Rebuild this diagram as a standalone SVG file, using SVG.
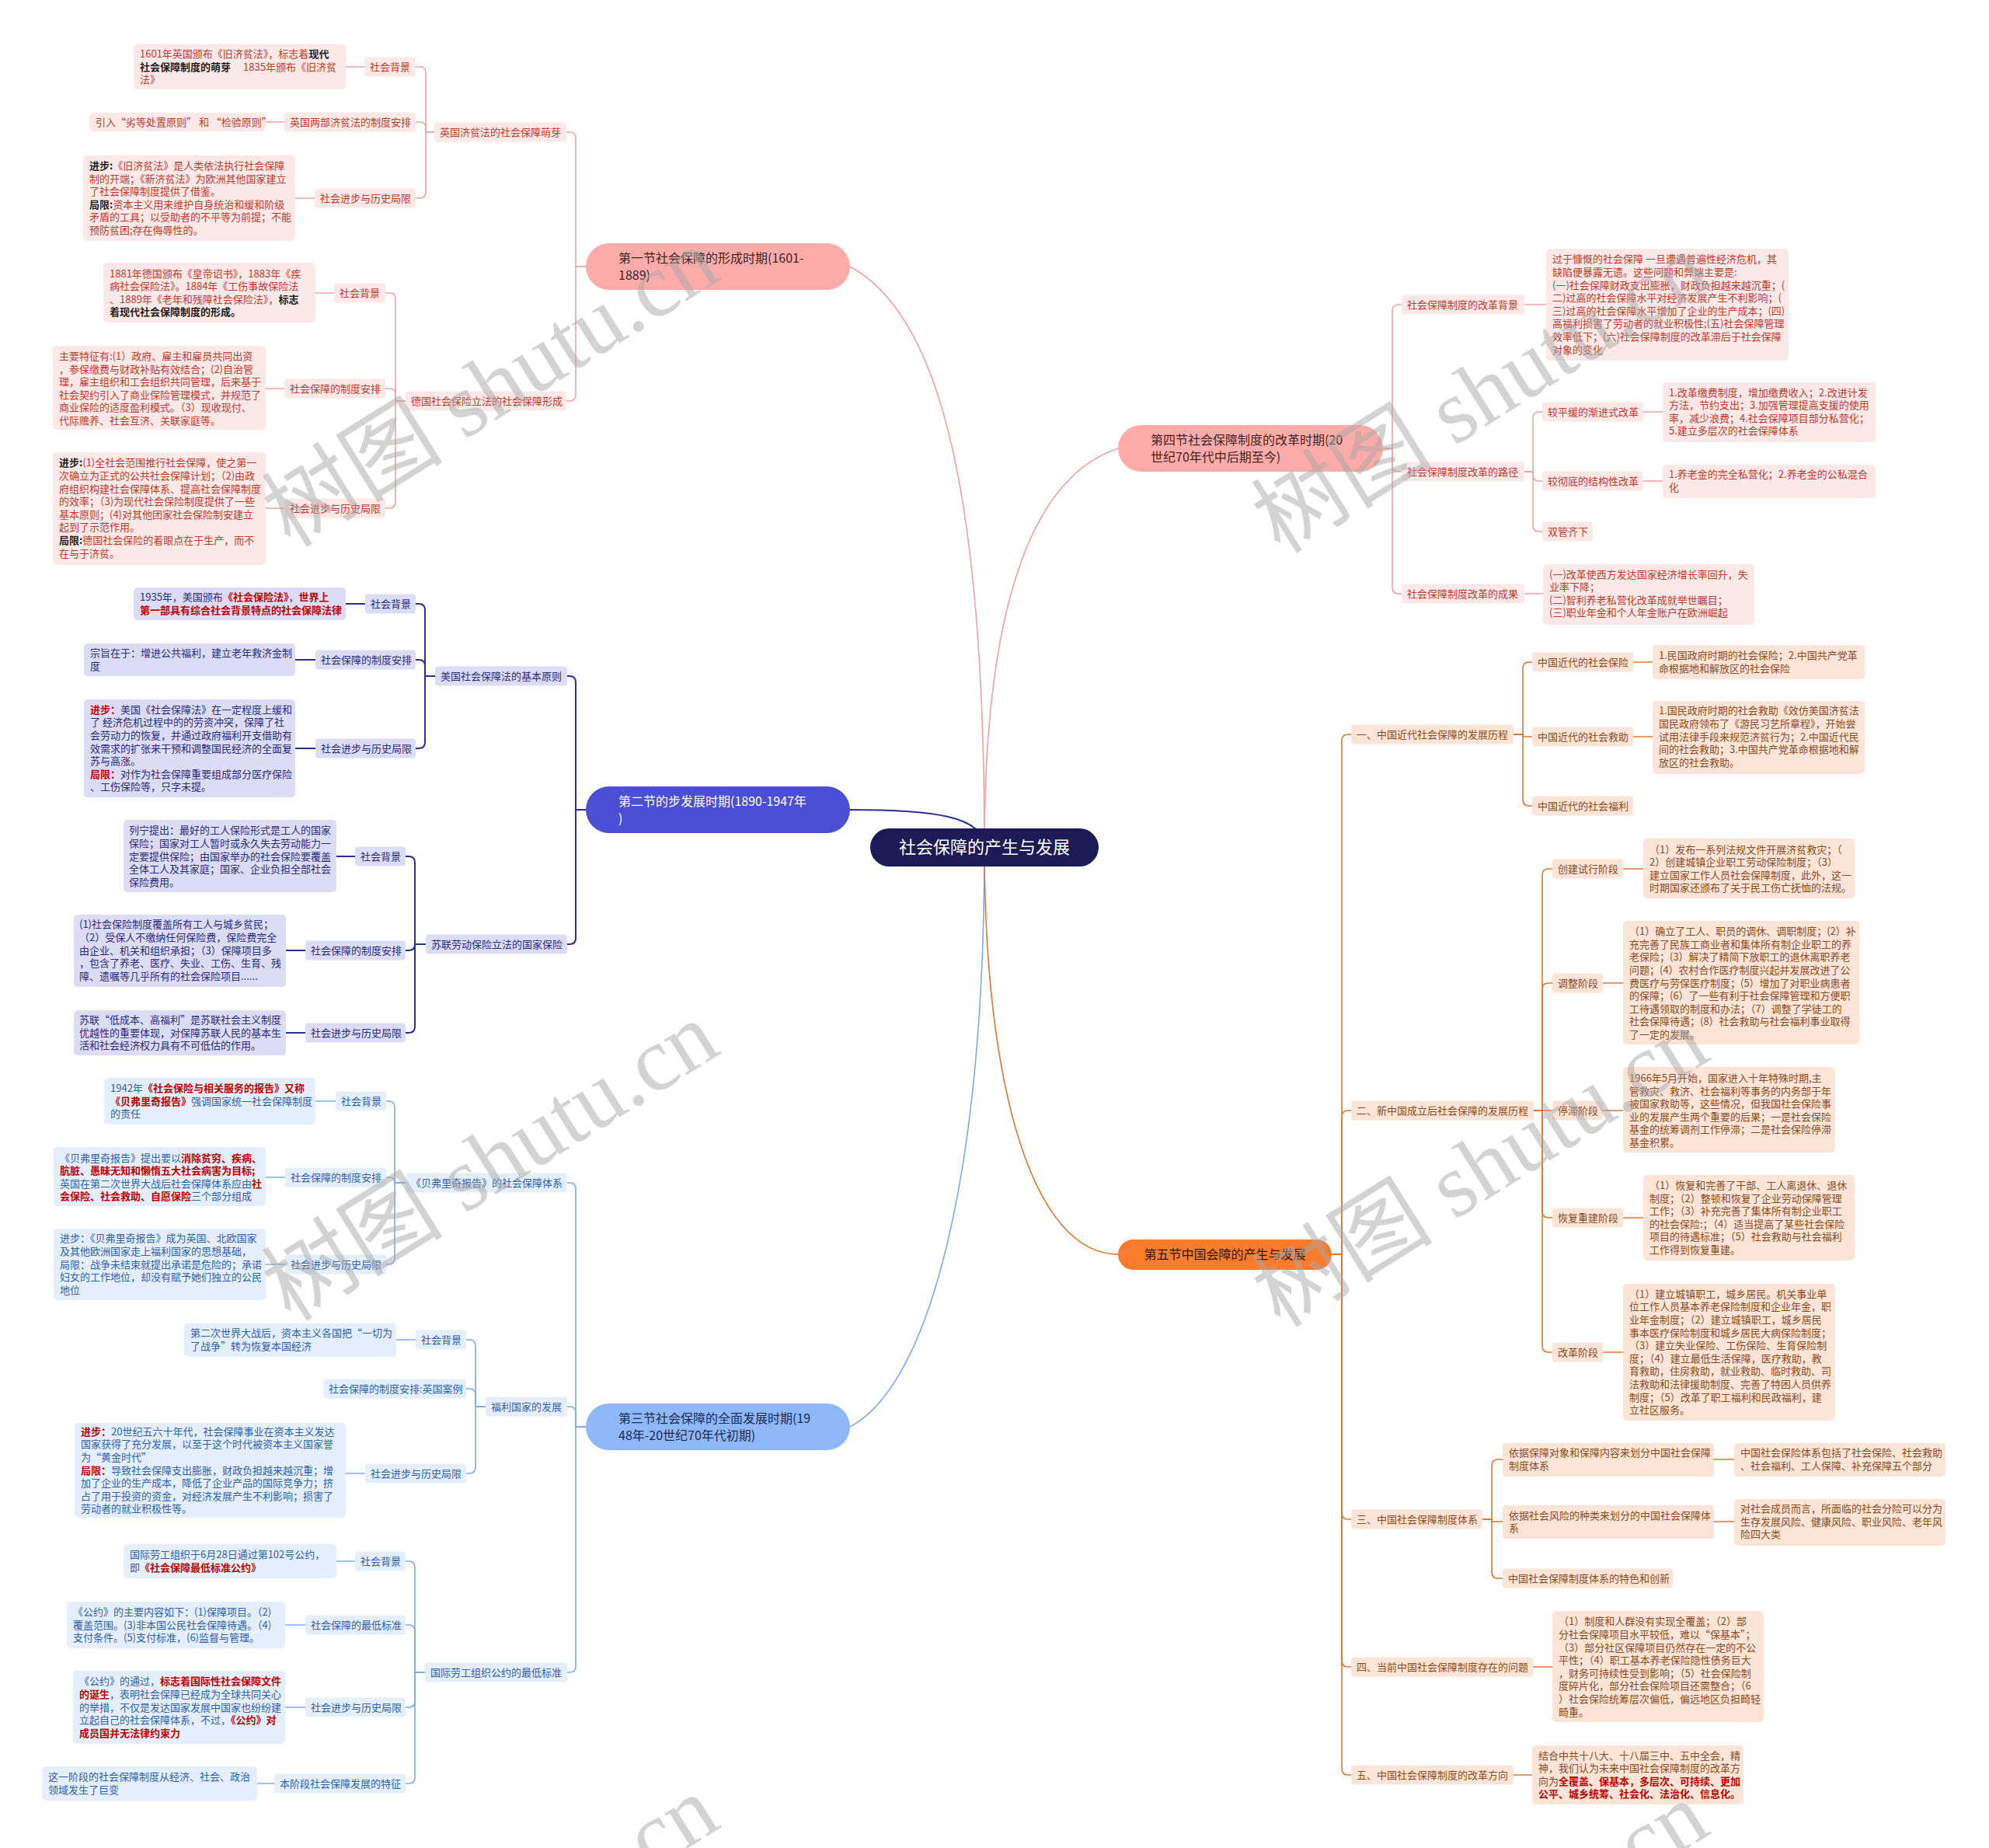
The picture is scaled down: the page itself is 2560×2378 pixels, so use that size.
<svg xmlns="http://www.w3.org/2000/svg" width="2560" height="2378" viewBox="0 0 2560 2378">
<style>
text{font-family:"Noto Sans CJK SC","Noto Sans",sans-serif;font-size:13px}
.pb{fill:#fde8e8}.pt{fill:#c0392b}
.nb{fill:#dcdcf6}.nt{fill:#2b2b82}
.bb{fill:#e5eefc}.bt{fill:#2c62b0}
.ob{fill:#fde4d6}.ot{fill:#8b4a22}
.k{font-weight:bold;fill:#1e1e1e}
.r{font-weight:bold;fill:#c00000}
.cp{fill:none;stroke:#f0a2a2;stroke-width:1.6}
.cn{fill:none;stroke:#2a2f96;stroke-width:2}
.cb{fill:none;stroke:#80aae6;stroke-width:1.6}
.co{fill:none;stroke:#e27632;stroke-width:1.6}
.l1{font-size:16px}
.wm{font-family:"Liberation Serif","Noto Sans CJK SC",serif;font-size:117px;fill:#a8a8a8;fill-opacity:.5}
</style>
<rect x="0" y="0" width="2560" height="2378" fill="#ffffff"/>
<g id="connectors">
<path class="cp" d="M1267,1090 C1267,600 1200,400 1094,343"/>
<path class="cn" d="M1267,1090 C1267,1050 1200,1042 1094,1042"/>
<path class="cb" d="M1267,1090 C1267,1500 1200,1780 1094,1836"/>
<path class="cp" d="M1267,1090 C1267,750 1340,610 1439,577"/>
<path class="co" d="M1267,1090 C1267,1400 1330,1614 1439,1614"/>
<path class="cp" d="M754,343 H741 V178 Q741,170 733,170 H729"/>
<path class="cp" d="M754,343 H741 V508 Q741,516 733,516 H729"/>
<path class="cp" d="M559,170 H548 V94 Q548,86 540,86 H535"/>
<path class="cp" d="M559,170 H548 V165 Q548,157 540,157 H535"/>
<path class="cp" d="M559,170 H548 V247 Q548,255 540,255 H535"/>
<path class="cp" d="M522,516 H509 V385 Q509,377 501,377 H496"/>
<path class="cp" d="M522,516 H509 V508 Q509,500 501,500 H496"/>
<path class="cp" d="M522,516 H509 V646 Q509,654 501,654 H496"/>
<path class="cp" d="M445,86 H469 M342,157 H366 M380,255 H405 M406,377 H430 M342,500 H366 M342,654 H366"/>
<path class="cn" d="M754,1042 H741 V878 Q741,870 733,870 H730"/>
<path class="cn" d="M754,1042 H741 V1207 Q741,1215 733,1215 H730"/>
<path class="cn" d="M560,870 H547 V785 Q547,777 539,777 H535"/>
<path class="cn" d="M560,870 H547 V857 Q547,849 539,849 H535"/>
<path class="cn" d="M560,870 H547 V955 Q547,963 539,963 H535"/>
<path class="cn" d="M548,1215 H534 V1110 Q534,1102 526,1102 H522"/>
<path class="cn" d="M548,1215 H534 Q534,1223 526,1223 H522"/>
<path class="cn" d="M548,1215 H534 V1321 Q534,1329 526,1329 H522"/>
<path class="cn" d="M445,777 H470 M380,849 H406 M380,963 H406 M433,1102 H457 M368,1223 H393 M368,1329 H393"/>
<path class="cb" d="M754,1836 H741 V1530 Q741,1522 733,1522 H730"/>
<path class="cb" d="M754,1836 H741 V1818 Q741,1810 733,1810 H730"/>
<path class="cb" d="M754,1836 H741 V2144 Q741,2152 733,2152 H730"/>
<path class="cb" d="M522,1522 H508 V1425 Q508,1417 500,1417 H497"/>
<path class="cb" d="M522,1522 H508 Q508,1515 501,1515 H497"/>
<path class="cb" d="M522,1522 H508 V1619 Q508,1627 500,1627 H497"/>
<path class="cb" d="M625,1810 H612 V1732 Q612,1724 604,1724 H600"/>
<path class="cb" d="M625,1810 H612 V1795 Q612,1787 604,1787 H600"/>
<path class="cb" d="M625,1810 H612 V1888 Q612,1896 604,1896 H600"/>
<path class="cb" d="M547,2152 H534 V2017 Q534,2009 526,2009 H522"/>
<path class="cb" d="M547,2152 H534 V2099 Q534,2091 526,2091 H522"/>
<path class="cb" d="M547,2152 H534 V2189 Q534,2197 526,2197 H522"/>
<path class="cb" d="M547,2152 H534 V2287 Q534,2295 526,2295 H522"/>
<path class="cb" d="M406,1417 H432 M342,1515 H367 M342,1627 H367 M510,1724 H535 M445,1896 H470 M433,2009 H457 M367,2091 H393 M367,2197 H393 M331,2295 H353"/>
<path class="cp" d="M1780,577 H1792 V400 Q1792,392 1800,392 H1804"/>
<path class="cp" d="M1780,577 H1792 V599 Q1792,607 1800,607 H1804"/>
<path class="cp" d="M1780,577 H1792 V756 Q1792,764 1800,764 H1804"/>
<path class="cp" d="M1962,607 H1973 V538 Q1973,530 1981,530 H1985"/>
<path class="cp" d="M1962,607 H1973 V611 Q1973,619 1981,619 H1985"/>
<path class="cp" d="M1962,607 H1973 V676 Q1973,684 1981,684 H1985"/>
<path class="cp" d="M1962,392 H1990 M1962,764 H1986 M2115,530 H2140 M2115,619 H2140"/>
<path class="co" d="M1714,1614 H1727 V953 Q1727,945 1735,945 H1739"/>
<path class="co" d="M1714,1614 H1727 V1437 Q1727,1429 1735,1429 H1739"/>
<path class="co" d="M1714,1614 H1727 V1947 Q1727,1955 1735,1955 H1739"/>
<path class="co" d="M1714,1614 H1727 V2137 Q1727,2145 1735,2145 H1739"/>
<path class="co" d="M1714,1614 H1727 V2276 Q1727,2284 1735,2284 H1739"/>
<path class="co" d="M1948,945 H1960 V860 Q1960,852 1968,852 H1972"/>
<path class="co" d="M1948,945 H1960 V948 H1972"/>
<path class="co" d="M1948,945 H1960 V1029 Q1960,1037 1968,1037 H1972"/>
<path class="co" d="M1974,1429 H1985 V1126 Q1985,1118 1993,1118 H1998"/>
<path class="co" d="M1974,1429 H1985 V1273 Q1985,1265 1993,1265 H1998"/>
<path class="co" d="M1974,1429 H1998"/>
<path class="co" d="M1974,1429 H1985 V1559 Q1985,1567 1993,1567 H1998"/>
<path class="co" d="M1974,1429 H1985 V1732 Q1985,1740 1993,1740 H1998"/>
<path class="co" d="M1908,1955 H1920 V1886 Q1920,1878 1928,1878 H1934"/>
<path class="co" d="M1908,1955 H1920 V1958 H1934"/>
<path class="co" d="M1908,1955 H1920 V2023 Q1920,2031 1928,2031 H1934"/>
<path class="co" d="M2102,852 H2127 M2102,948 H2127 M2089,1118 H2115 M2063,1265 H2089 M2063,1429 H2089 M2089,1567 H2115 M2063,1740 H2089 M2206,1878 H2232 M2206,1958 H2232 M1973,2145 H1998 M1947,2284 H1972"/>
</g>

<g id="center"><rect x="1120" y="1066" width="294" height="49" rx="24.5" fill="#1c1b57"/><text x="1267" y="1098" text-anchor="middle" fill="#ffffff" style="font-size:22px">社会保障的产生与发展</text></g>

<g id="n1"><rect x="754" y="313" width="340" height="60" rx="30" fill="#ffaba9"/><text class="l1" fill="#3a2626"><tspan x="796" y="337.5">第一节社会保障的形成时期(1601-</tspan><tspan x="796" y="359.5">1889)</tspan></text></g>
<g id="n2"><rect x="754" y="1012" width="340" height="60" rx="30" fill="#4a4fd6"/><text class="l1" fill="#ffffff"><tspan x="796" y="1036.5">第二节的步发展时期(1890-1947年</tspan><tspan x="796" y="1058.5">)</tspan></text></g>
<g id="n3"><rect x="754" y="1806" width="340" height="60" rx="30" fill="#8fb8f8"/><text class="l1" fill="#1e2b55"><tspan x="796" y="1830.5">第三节社会保障的全面发展时期(19</tspan><tspan x="796" y="1852.5">48年-20世纪70年代初期)</tspan></text></g>
<g id="n4"><rect x="1439" y="547" width="341" height="60" rx="30" fill="#ffaba9"/><text class="l1" fill="#3a2626"><tspan x="1481" y="571.5">第四节社会保障制度的改革时期(20</tspan><tspan x="1481" y="593.5">世纪70年代中后期至今)</tspan></text></g>
<g id="n5"><rect x="1439" y="1595" width="275" height="39" rx="19.5" fill="#f97b2c"/><text class="l1" x="1576.5" y="1620" text-anchor="middle" fill="#2e1a0c">第五节中国会障的产生与发展</text></g>

<g id="s1-a1"><rect class="pb" x="559" y="157.5" width="170" height="25" rx="4"/><text class="pt" x="566" y="174.5">英国济贫法的社会保障萌芽</text></g>
<g id="s1-a1-1"><rect class="pb" x="469" y="73.5" width="66" height="25" rx="4"/><text class="pt" x="476" y="90.5">社会背景</text></g>
<g id="s1-a1-1-leaf"><rect class="pb" x="172" y="57" width="273" height="58" rx="5"/><text class="pt"><tspan x="180" y="73.9">1601年英国颁布《旧济贫法》，标志着<tspan class="k">现代</tspan></tspan><tspan x="180" y="90.5"><tspan class="k">社会保障制度的萌芽</tspan><tspan dx="16">1835年颁布《旧济贫</tspan></tspan><tspan x="180" y="107.1">法》</tspan></text></g>
<g id="s1-a1-2"><rect class="pb" x="366" y="144.5" width="169" height="25" rx="4"/><text class="pt" x="373" y="161.5">英国两部济贫法的制度安排</text></g>
<g id="s1-a1-2-leaf"><rect class="pb" x="115" y="145" width="227" height="24" rx="5"/><text class="pt" x="123" y="161.5">引入“劣等处置原则” 和 “检验原则”</text></g>
<g id="s1-a1-3"><rect class="pb" x="405" y="242.5" width="130" height="25" rx="4"/><text class="pt" x="412" y="259.5">社会进步与历史局限</text></g>
<g id="s1-a1-3-leaf"><rect class="pb" x="107" y="200" width="273" height="110" rx="5"/><text class="pt"><tspan x="115" y="218"><tspan class="k">进步:</tspan>《旧济贫法》是人类依法执行社会保障</tspan><tspan x="115" y="234.6">制的开端；《新济贫法》为欧洲其他国家建立</tspan><tspan x="115" y="251.2">了社会保障制度提供了借鉴。</tspan><tspan x="115" y="267.8"><tspan class="k">局限:</tspan>资本主义用来维护自身统治和缓和阶级</tspan><tspan x="115" y="284.4">矛盾的工具；以受助者的不平等为前提；不能</tspan><tspan x="115" y="301">预防贫困;存在侮辱性的。</tspan></text></g>

<g id="s1-a2"><rect class="pb" x="522" y="503.5" width="207" height="25" rx="4"/><text class="pt" x="529" y="520.5">德国社会保险立法的社会保障形成</text></g>
<g id="s1-a2-1"><rect class="pb" x="430" y="364.5" width="66" height="25" rx="4"/><text class="pt" x="437" y="381.5">社会背景</text></g>
<g id="s1-a2-1-leaf"><rect class="pb" x="133" y="338" width="273" height="77" rx="5"/><text class="pt"><tspan x="141" y="356.6">1881年德国颁布《皇帝诏书》，1883年《疾</tspan><tspan x="141" y="373.2">病社会保险法》。1884年《工伤事故保险法</tspan><tspan x="141" y="389.8">、1889年《老年和残障社会保险法》，<tspan class="k">标志</tspan></tspan><tspan x="141" y="406.4" class="k">着现代社会保障制度的形成。</tspan></text></g>
<g id="s1-a2-2"><rect class="pb" x="366" y="487.5" width="130" height="25" rx="4"/><text class="pt" x="373" y="504.5">社会保障的制度安排</text></g>
<g id="s1-a2-2-leaf"><rect class="pb" x="68" y="445" width="274" height="108" rx="5"/><text class="pt"><tspan x="76" y="463">主要特征有:(1）政府、雇主和雇员共同出资</tspan><tspan x="76" y="479.6">，参保缴费与财政补贴有效结合；(2)自治管</tspan><tspan x="76" y="496.2">理，雇主组织和工会组织共同管理，后来基于</tspan><tspan x="76" y="512.8">社会契约引入了商业保险管理模式，并规范了</tspan><tspan x="76" y="529.4">商业保险的适度盈利模式。（3）现收现付、</tspan><tspan x="76" y="546">代际赡养、社会互济、关联家庭等。</tspan></text></g>
<g id="s1-a2-3"><rect class="pb" x="366" y="641.5" width="130" height="25" rx="4"/><text class="pt" x="373" y="658.5">社会进步与历史局限</text></g>
<g id="s1-a2-3-leaf"><rect class="pb" x="68" y="582" width="274" height="145" rx="5"/><text class="pt"><tspan x="76" y="600.4"><tspan class="k">进步:</tspan>(1)全社会范围推行社会保障，使之第一</tspan><tspan x="76" y="617">次确立为正式的公共社会保障计划；（2)由政</tspan><tspan x="76" y="633.6">府组织构建社会保障体系、提高社会保障制度</tspan><tspan x="76" y="650.2">的效率；（3)为现代社会保险制度提供了一些</tspan><tspan x="76" y="666.8">基本原则；(4)对其他团家社会保险制安建立</tspan><tspan x="76" y="683.4">起到了示范作用。</tspan><tspan x="76" y="700"><tspan class="k">局限:</tspan>德国社会保险的着眼点在于生产，而不</tspan><tspan x="76" y="716.6">在与于济贫。</tspan></text></g>

<g id="s2-b1"><rect class="nb" x="560" y="857.5" width="170" height="25" rx="4"/><text class="nt" x="567" y="874.5">美国社会保障法的基本原则</text></g>
<g id="s2-b1-1"><rect class="nb" x="470" y="764.5" width="65" height="25" rx="4"/><text class="nt" x="477" y="781.5">社会背景</text></g>
<g id="s2-b1-1-leaf"><rect class="nb" x="172" y="756" width="273" height="42" rx="5"/><text class="nt"><tspan x="180" y="773.2">1935年，美国颁布<tspan class="r">《社会保险法》</tspan>，<tspan class="r">世界上</tspan></tspan><tspan x="180" y="789.8" class="r">第一部具有综合社会背景特点的社会保障法律</tspan></text></g>
<g id="s2-b1-2"><rect class="nb" x="406" y="836.5" width="129" height="25" rx="4"/><text class="nt" x="413" y="853.5">社会保障的制度安排</text></g>
<g id="s2-b1-2-leaf"><rect class="nb" x="108" y="828" width="272" height="42" rx="5"/><text class="nt"><tspan x="116" y="845.2">宗旨在于：增进公共福利，建立老年救济金制</tspan><tspan x="116" y="861.8">度</tspan></text></g>
<g id="s2-b1-3"><rect class="nb" x="406" y="950.5" width="129" height="25" rx="4"/><text class="nt" x="413" y="967.5">社会进步与历史局限</text></g>
<g id="s2-b1-3-leaf"><rect class="nb" x="108" y="900" width="272" height="126" rx="5"/><text class="nt"><tspan x="116" y="917.7"><tspan class="r">进步：</tspan>美国《社会保障法》在一定程度上缓和</tspan><tspan x="116" y="934.3">了 经济危机过程中的的劳资冲突，保障了社</tspan><tspan x="116" y="950.9">会劳动力的恢复，并通过政府福利开支借助有</tspan><tspan x="116" y="967.5">效需求的扩张来干预和调整国民经济的全面复</tspan><tspan x="116" y="984.1">苏与高涨。</tspan><tspan x="116" y="1000.7"><tspan class="r">局限：</tspan>对作为社会保障重要组成部分医疗保险</tspan><tspan x="116" y="1017.3">、工伤保险等，只字未提。</tspan></text></g>

<g id="s2-b2"><rect class="nb" x="548" y="1202.5" width="182" height="25" rx="4"/><text class="nt" x="555" y="1219.5">苏联劳动保险立法的国家保险</text></g>
<g id="s2-b2-1"><rect class="nb" x="457" y="1089.5" width="65" height="25" rx="4"/><text class="nt" x="464" y="1106.5">社会背景</text></g>
<g id="s2-b2-1-leaf"><rect class="nb" x="159" y="1055" width="274" height="93" rx="5"/><text class="nt"><tspan x="166" y="1073.3">列宁提出：最好的工人保险形式是工人的国家</tspan><tspan x="166" y="1089.9">保险；国家对工人暂时或永久失去劳动能力一</tspan><tspan x="166" y="1106.5">定要提供保险；由国家举办的社会保险要覆盖</tspan><tspan x="166" y="1123.1">全体工人及其家庭；国家、企业负担全部社会</tspan><tspan x="166" y="1139.7">保险费用。</tspan></text></g>
<g id="s2-b2-2"><rect class="nb" x="393" y="1210.5" width="129" height="25" rx="4"/><text class="nt" x="400" y="1227.5">社会保障的制度安排</text></g>
<g id="s2-b2-2-leaf"><rect class="nb" x="95" y="1177" width="273" height="93" rx="5"/><text class="nt"><tspan x="102" y="1194.3">(1)社会保险制度覆盖所有工人与城乡贫民；</tspan><tspan x="102" y="1210.9">（2）受保人不缴纳任何保险费，保险费完全</tspan><tspan x="102" y="1227.5">由企业、机关和组织承担；（3）保障项目多</tspan><tspan x="102" y="1244.1">，包含了养老、医疗、失业、工伤、生育、残</tspan><tspan x="102" y="1260.7">障、遗嘱等几乎所有的社会保险项目......</tspan></text></g>
<g id="s2-b2-3"><rect class="nb" x="393" y="1316.5" width="129" height="25" rx="4"/><text class="nt" x="400" y="1333.5">社会进步与历史局限</text></g>
<g id="s2-b2-3-leaf"><rect class="nb" x="95" y="1300" width="273" height="58" rx="5"/><text class="nt"><tspan x="102" y="1316.9">苏联“低成本、高福利”是苏联社会主义制度</tspan><tspan x="102" y="1333.5">优越性的重要体现，对保障苏联人民的基本生</tspan><tspan x="102" y="1350.1">活和社会经济权力具有不可低估的作用。</tspan></text></g>

<g id="s3-c1"><rect class="bb" x="522" y="1509.5" width="208" height="25" rx="4"/><text class="bt" x="529" y="1526.5">《贝弗里奇报告》的社会保障体系</text></g>
<g id="s3-c1-1"><rect class="bb" x="432" y="1404.5" width="65" height="25" rx="4"/><text class="bt" x="439" y="1421.5">社会背景</text></g>
<g id="s3-c1-1-leaf"><rect class="bb" x="134" y="1387" width="272" height="60" rx="5"/><text class="bt"><tspan x="142" y="1404.9">1942年<tspan class="r">《社会保险与相关服务的报告》又称</tspan></tspan><tspan x="142" y="1421.5"><tspan class="r">《贝弗里奇报告》</tspan>强调国家统一社会保障制度</tspan><tspan x="142" y="1438.1">的责任</tspan></text></g>
<g id="s3-c1-2"><rect class="bb" x="367" y="1502.5" width="130" height="25" rx="4"/><text class="bt" x="374" y="1519.5">社会保障的制度安排</text></g>
<g id="s3-c1-2-leaf"><rect class="bb" x="69" y="1476" width="273" height="76" rx="5"/><text class="bt"><tspan x="77" y="1494.6">《贝弗里奇报告》提出要以<tspan class="r">消除贫穷、疾病、</tspan></tspan><tspan x="77" y="1511.2" class="r">肮脏、愚昧无知和懒惰五大社会病害为目标;</tspan><tspan x="77" y="1527.8">英国在第二次世界大战后社会保障体系应由<tspan class="r">社</tspan></tspan><tspan x="77" y="1544.4"><tspan class="r">会保险、社会救助、自愿保险</tspan>三个部分组成</tspan></text></g>
<g id="s3-c1-3"><rect class="bb" x="367" y="1614.5" width="130" height="25" rx="4"/><text class="bt" x="374" y="1631.5">社会进步与历史局限</text></g>
<g id="s3-c1-3-leaf"><rect class="bb" x="69" y="1581" width="273" height="92" rx="5"/><text class="bt"><tspan x="77" y="1598.3">进步：《贝弗里奇报告》成为英国、北欧国家</tspan><tspan x="77" y="1614.9">及其他欧洲国家走上福利国家的思想基础，</tspan><tspan x="77" y="1631.5">局限：战争未结束就提出承诺是危险的；承诺</tspan><tspan x="77" y="1648.1">妇女的工作地位，却没有赋予她们独立的公民</tspan><tspan x="77" y="1664.7">地位</tspan></text></g>

<g id="s3-c2"><rect class="bb" x="625" y="1797.5" width="105" height="25" rx="4"/><text class="bt" x="632" y="1814.5">福利国家的发展</text></g>
<g id="s3-c2-1"><rect class="bb" x="535" y="1711.5" width="65" height="25" rx="4"/><text class="bt" x="542" y="1728.5">社会背景</text></g>
<g id="s3-c2-1-leaf"><rect class="bb" x="237" y="1703" width="273" height="43" rx="5"/><text class="bt"><tspan x="245" y="1720.2">第二次世界大战后，资本主义各国把“一切为</tspan><tspan x="245" y="1736.8">了战争”转为恢复本国经济</tspan></text></g>
<g id="s3-c2-2"><rect class="bb" x="416" y="1774.5" width="184" height="25" rx="4"/><text class="bt" x="423" y="1791.5">社会保障的制度安排:英国案例</text></g>
<g id="s3-c2-3"><rect class="bb" x="470" y="1883.5" width="130" height="25" rx="4"/><text class="bt" x="477" y="1900.5">社会进步与历史局限</text></g>
<g id="s3-c2-3-leaf"><rect class="bb" x="96" y="1831" width="349" height="122" rx="5"/><text class="bt"><tspan x="104" y="1846.7"><tspan class="r">进步：</tspan>20世纪五六十年代，社会保障事业在资本主义发达</tspan><tspan x="104" y="1863.3">国家获得了充分发展，以至于这个时代被资本主义国家誉</tspan><tspan x="104" y="1879.9">为“黄金时代”</tspan><tspan x="104" y="1896.5"><tspan class="r">局限：</tspan>导致社会保障支出膨胀，财政负担越来越沉重；增</tspan><tspan x="104" y="1913.1">加了企业的生产成本，降低了企业产品的国际竞争力；挤</tspan><tspan x="104" y="1929.7">占了用于投资的资金，对经济发展产生不利影响；损害了</tspan><tspan x="104" y="1946.3">劳动者的就业积极性等。</tspan></text></g>

<g id="s3-c3"><rect class="bb" x="547" y="2139.5" width="183" height="25" rx="4"/><text class="bt" x="554" y="2156.5">国际劳工组织公约的最低标准</text></g>
<g id="s3-c3-1"><rect class="bb" x="457" y="1996.5" width="65" height="25" rx="4"/><text class="bt" x="464" y="2013.5">社会背景</text></g>
<g id="s3-c3-1-leaf"><rect class="bb" x="159" y="1987" width="274" height="44" rx="5"/><text class="bt"><tspan x="167" y="2005.2">国际劳工组织于6月28日通过第102号公约，</tspan><tspan x="167" y="2021.8">即<tspan class="r">《社会保障最低标准公约》</tspan></tspan></text></g>
<g id="s3-c3-2"><rect class="bb" x="393" y="2078.5" width="129" height="25" rx="4"/><text class="bt" x="400" y="2095.5">社会保障的最低标准</text></g>
<g id="s3-c3-2-leaf"><rect class="bb" x="86" y="2061" width="281" height="60" rx="5"/><text class="bt"><tspan x="94" y="2078.9">《公约》的主要内容如下：(1)保障项目。（2)</tspan><tspan x="94" y="2095.5">覆盖范围。(3)非本国公民社会保障待遇。（4)</tspan><tspan x="94" y="2112.1">支付条件。(5)支付标准，(6)监督与管理。</tspan></text></g>
<g id="s3-c3-3"><rect class="bb" x="393" y="2184.5" width="129" height="25" rx="4"/><text class="bt" x="400" y="2201.5">社会进步与历史局限</text></g>
<g id="s3-c3-3-leaf"><rect class="bb" x="94" y="2150" width="273" height="94" rx="5"/><text class="bt"><tspan x="102" y="2168.3">《公约》的通过，<tspan class="r">标志着国际性社会保障文件</tspan></tspan><tspan x="102" y="2184.9"><tspan class="r">的诞生</tspan>，表明社会保障已经成为全球共同关心</tspan><tspan x="102" y="2201.5">的举措，不仅是发达国家发展中国家也纷纷建</tspan><tspan x="102" y="2218.1">立起自己的社会保障体系，不过，<tspan class="r">《公约》对</tspan></tspan><tspan x="102" y="2234.7" class="r">成员国并无法律约束力</tspan></text></g>
<g id="s3-c3-4"><rect class="bb" x="353" y="2282.5" width="169" height="25" rx="4"/><text class="bt" x="360" y="2299.5">本阶段社会保障发展的特征</text></g>
<g id="s3-c3-4-leaf"><rect class="bb" x="54" y="2273" width="277" height="44" rx="5"/><text class="bt"><tspan x="62" y="2291.2">这一阶段的社会保障制度从经济、社会、政治</tspan><tspan x="62" y="2307.8">领域发生了巨变</tspan></text></g>

<g id="s4-d1"><rect class="pb" x="1804" y="379.5" width="158" height="25" rx="4"/><text class="pt" x="1811" y="396.5">社会保障制度的改革背景</text></g>
<g id="s4-d1-leaf"><rect class="pb" x="1990" y="320" width="312" height="144" rx="5"/><text class="pt"><tspan x="1998" y="338.4">过于慷慨的社会保障 一旦遭遇普遍性经济危机，其</tspan><tspan x="1998" y="355">缺陷便暴露无遗。这些问题和弊端主要是:</tspan><tspan x="1998" y="371.6">(一)社会保障财政支出膨胀，财政负担越来越沉重；(</tspan><tspan x="1998" y="388.2">二)过高的社会保障水平对经济发展产生不利影响；(</tspan><tspan x="1998" y="404.8">三)过高的社会保障水平增加了企业的生产成本；(四)</tspan><tspan x="1998" y="421.4">高福利损害了劳动者的就业积极性;(五)社会保障管理</tspan><tspan x="1998" y="438">效率低下；(六)社会保障制度的改革滞后于社会保障</tspan><tspan x="1998" y="454.6">对象的变化</tspan></text></g>
<g id="s4-d2"><rect class="pb" x="1804" y="594.5" width="158" height="25" rx="4"/><text class="pt" x="1811" y="611.5">社会保障制度改革的路径</text></g>
<g id="s4-d2-1"><rect class="pb" x="1985" y="517.5" width="130" height="25" rx="4"/><text class="pt" x="1992" y="534.5">较平缓的渐进式改革</text></g>
<g id="s4-d2-1-leaf"><rect class="pb" x="2140" y="492" width="274" height="77" rx="5"/><text class="pt"><tspan x="2148" y="509.6">1.改革缴费制度，增加缴费收入；2.改进计发</tspan><tspan x="2148" y="526.2">方法，节约支出；3.加强管理提高支援的使用</tspan><tspan x="2148" y="542.8">率，减少浪费；4.社会保障项目部分私营化；</tspan><tspan x="2148" y="559.4">5.建立多层次的社会保障体系</tspan></text></g>
<g id="s4-d2-2"><rect class="pb" x="1985" y="606.5" width="130" height="25" rx="4"/><text class="pt" x="1992" y="623.5">较彻底的结构性改革</text></g>
<g id="s4-d2-2-leaf"><rect class="pb" x="2140" y="598" width="274" height="43" rx="5"/><text class="pt"><tspan x="2148" y="615.2">1.养老金的完全私营化；2.养老金的公私混合</tspan><tspan x="2148" y="631.8">化</tspan></text></g>
<g id="s4-d2-3"><rect class="pb" x="1985" y="671.5" width="65" height="25" rx="4"/><text class="pt" x="1992" y="688.5">双管齐下</text></g>
<g id="s4-d3"><rect class="pb" x="1804" y="751.5" width="158" height="25" rx="4"/><text class="pt" x="1811" y="768.5">社会保障制度改革的成果</text></g>
<g id="s4-d3-leaf"><rect class="pb" x="1986" y="726" width="272" height="78" rx="5"/><text class="pt"><tspan x="1994" y="743.6">(一)改革使西方发达国家经济增长率回升，失</tspan><tspan x="1994" y="760.2">业率下降；</tspan><tspan x="1994" y="776.8">(二)智利养老私营化改革成就举世瞩目；</tspan><tspan x="1994" y="793.4">(三)职业年金和个人年金账户在欧洲崛起</tspan></text></g>

<g id="s5-e1"><rect class="ob" x="1739" y="932.5" width="209" height="25" rx="4"/><text class="ot" x="1746" y="949.5">一、中国近代社会保障的发展历程</text></g>
<g id="s5-e1-1"><rect class="ob" x="1972" y="839.5" width="130" height="25" rx="4"/><text class="ot" x="1979" y="856.5">中国近代的社会保险</text></g>
<g id="s5-e1-1-leaf"><rect class="ob" x="2127" y="830" width="273" height="44" rx="5"/><text class="ot"><tspan x="2135" y="848.2">1.民国政府时期的社会保险；2.中国共产党革</tspan><tspan x="2135" y="864.8">命根据地和解放区的社会保险</tspan></text></g>
<g id="s5-e1-2"><rect class="ob" x="1972" y="935.5" width="130" height="25" rx="4"/><text class="ot" x="1979" y="952.5">中国近代的社会救助</text></g>
<g id="s5-e1-2-leaf"><rect class="ob" x="2127" y="902" width="273" height="94" rx="5"/><text class="ot"><tspan x="2135" y="919.3">1.国民政府时期的社会救助《效仿美国济贫法</tspan><tspan x="2135" y="935.9">国民政府领布了《游民习艺所章程》，开始尝</tspan><tspan x="2135" y="952.5">试用法律手段来规范济贫行为；2.中国近代民</tspan><tspan x="2135" y="969.1">间的社会救助；3.中国共产党革命根据地和解</tspan><tspan x="2135" y="985.7">放区的社会救助。</tspan></text></g>
<g id="s5-e1-3"><rect class="ob" x="1972" y="1024.5" width="130" height="25" rx="4"/><text class="ot" x="1979" y="1041.5">中国近代的社会福利</text></g>

<g id="s5-e2"><rect class="ob" x="1739" y="1416.5" width="235" height="25" rx="4"/><text class="ot" x="1746" y="1433.5">二、新中国成立后社会保障的发展历程</text></g>
<g id="s5-e2-1"><rect class="ob" x="1998" y="1105.5" width="91" height="25" rx="4"/><text class="ot" x="2005" y="1122.5">创建试行阶段</text></g>
<g id="s5-e2-1-leaf"><rect class="ob" x="2115" y="1079" width="272" height="77" rx="5"/><text class="ot"><tspan x="2123" y="1097.6">（1）发布一系列法规文件开展济贫救灾；（</tspan><tspan x="2123" y="1114.2">2）创建城镇企业职工劳动保险制度；（3）</tspan><tspan x="2123" y="1130.8">建立国家工作人员社会保障制度，此外，这一</tspan><tspan x="2123" y="1147.4">时期国家还颁布了关于民工伤亡抚恤的法规。</tspan></text></g>
<g id="s5-e2-2"><rect class="ob" x="1998" y="1252.5" width="65" height="25" rx="4"/><text class="ot" x="2005" y="1269.5">调整阶段</text></g>
<g id="s5-e2-2-leaf"><rect class="ob" x="2089" y="1185" width="304" height="159" rx="5"/><text class="ot"><tspan x="2097" y="1203.1">（1）确立了工人、职员的调休、调职制度；(2）补</tspan><tspan x="2097" y="1219.7">充完善了民族工商业者和集体所有制企业职工的养</tspan><tspan x="2097" y="1236.3">老保险；(3）解决了精简下放职工的退休离职养老</tspan><tspan x="2097" y="1252.9">问题；(4）农村合作医疗制度兴起并发展改进了公</tspan><tspan x="2097" y="1269.5">费医疗与劳保医疗制度；(5）增加了对职业病患者</tspan><tspan x="2097" y="1286.1">的保障；(6）了一些有利于社会保障管理和方便职</tspan><tspan x="2097" y="1302.7">工待遇领取的制度和办法；（7）调整了学徒工的</tspan><tspan x="2097" y="1319.3">社会保障待遇；(8）社会救助与社会福利事业取得</tspan><tspan x="2097" y="1335.9">了一定的发展。</tspan></text></g>
<g id="s5-e2-3"><rect class="ob" x="1998" y="1416.5" width="65" height="25" rx="4"/><text class="ot" x="2005" y="1433.5">停滞阶段</text></g>
<g id="s5-e2-3-leaf"><rect class="ob" x="2089" y="1373" width="273" height="110" rx="5"/><text class="ot"><tspan x="2097" y="1392">1966年5月开始，国家进入十年特殊时期,主</tspan><tspan x="2097" y="1408.6">管救灾、救济、社会福利等事务的内务部于年</tspan><tspan x="2097" y="1425.2">被国家救助等，这些情况，但我国社会保险事</tspan><tspan x="2097" y="1441.8">业的发展产生两个重要的后果；一是社会保险</tspan><tspan x="2097" y="1458.4">基金的统筹调剂工作停滞；二是社会保险停滞</tspan><tspan x="2097" y="1475">基金积累。</tspan></text></g>
<g id="s5-e2-4"><rect class="ob" x="1998" y="1554.5" width="91" height="25" rx="4"/><text class="ot" x="2005" y="1571.5">恢复重建阶段</text></g>
<g id="s5-e2-4-leaf"><rect class="ob" x="2115" y="1512" width="272" height="110" rx="5"/><text class="ot"><tspan x="2123" y="1530">（1）恢复和完善了干部、工人离退休、退休</tspan><tspan x="2123" y="1546.6">制度；（2）整顿和恢复了企业劳动保障管理</tspan><tspan x="2123" y="1563.2">工作；（3）补充完善了集体所有制企业职工</tspan><tspan x="2123" y="1579.8">的社会保险:；（4）适当提高了某些社会保险</tspan><tspan x="2123" y="1596.4">项目的待遇标准；（5）社会救助与社会福利</tspan><tspan x="2123" y="1613">工作得到恢复重建。</tspan></text></g>
<g id="s5-e2-5"><rect class="ob" x="1998" y="1727.5" width="65" height="25" rx="4"/><text class="ot" x="2005" y="1744.5">改革阶段</text></g>
<g id="s5-e2-5-leaf"><rect class="ob" x="2089" y="1652" width="273" height="176" rx="5"/><text class="ot"><tspan x="2097" y="1669.8">（1）建立城镇职工，城乡居民。机关事业单</tspan><tspan x="2097" y="1686.4">位工作人员基本养老保险制度和企业年金，职</tspan><tspan x="2097" y="1703">业年金制度；（2）建立城镇职工，城乡居民</tspan><tspan x="2097" y="1719.6">事本医疗保险制度和城乡居民大病保险制度；</tspan><tspan x="2097" y="1736.2">（3）建立失业保险、工伤保险、生育保险制</tspan><tspan x="2097" y="1752.8">度；（4）建立最低生活保障，医疗救助，教</tspan><tspan x="2097" y="1769.4">育救助，住房救助，就业救助、临时救助、司</tspan><tspan x="2097" y="1786">法救助和法律援助制度、完善了特困人员供养</tspan><tspan x="2097" y="1802.6">制度；（5）改革了职工福利和民政福利，建</tspan><tspan x="2097" y="1819.2">立社区服务。</tspan></text></g>

<g id="s5-e3"><rect class="ob" x="1739" y="1942.5" width="169" height="25" rx="4"/><text class="ot" x="1746" y="1959.5">三、中国社会保障制度体系</text></g>
<g id="s5-e3-1"><rect class="ob" x="1934" y="1857" width="272" height="43" rx="4"/><text class="ot"><tspan x="1942" y="1874.2">依据保障对象和保障内容来划分中国社会保障</tspan><tspan x="1942" y="1890.8">制度体系</tspan></text></g>
<g id="s5-e3-1-leaf"><rect class="ob" x="2232" y="1857" width="272" height="43" rx="5"/><text class="ot"><tspan x="2240" y="1874.2">中国社会保险体系包括了社会保险、社会救助</tspan><tspan x="2240" y="1890.8">、社会福利、工人保障、补充保障五个部分</tspan></text></g>
<g id="s5-e3-2"><rect class="ob" x="1934" y="1937" width="272" height="43" rx="4"/><text class="ot"><tspan x="1942" y="1954.7">依据社会风险的种类来划分的中国社会保障体</tspan><tspan x="1942" y="1971.3">系</tspan></text></g>
<g id="s5-e3-2-leaf"><rect class="ob" x="2232" y="1929" width="272" height="60" rx="5"/><text class="ot"><tspan x="2240" y="1945.9">对社会成员而言，所面临的社会分险可以分为</tspan><tspan x="2240" y="1962.5">生存发展风险、健康风险、职业风险、老年风</tspan><tspan x="2240" y="1979.1">险四大类</tspan></text></g>
<g id="s5-e3-3"><rect class="ob" x="1934" y="2018.5" width="219" height="25" rx="4"/><text class="ot" x="1941" y="2035.5">中国社会保障制度体系的特色和创新</text></g>

<g id="s5-e4"><rect class="ob" x="1739" y="2132.5" width="234" height="25" rx="4"/><text class="ot" x="1746" y="2149.5">四、当前中国社会保障制度存在的问题</text></g>
<g id="s5-e4-leaf"><rect class="ob" x="1998" y="2073" width="272" height="143" rx="5"/><text class="ot"><tspan x="2006" y="2091.4">（1）制度和人群没有实现全覆盖；（2）部</tspan><tspan x="2006" y="2108">分社会保障项目水平较低，难以“保基本”；</tspan><tspan x="2006" y="2124.6">（3）部分社区保障项目仍然存在一定的不公</tspan><tspan x="2006" y="2141.2">平性；（4）职工基本养老保险隐性债务巨大</tspan><tspan x="2006" y="2157.8">，财务可持续性受到影响；（5）社会保险制</tspan><tspan x="2006" y="2174.4">度碎片化，部分社会保险项目还需整合；（6</tspan><tspan x="2006" y="2191">）社会保险统筹层次偏低，偏远地区负担畸轻</tspan><tspan x="2006" y="2207.6">畸重。</tspan></text></g>

<g id="s5-e5"><rect class="ob" x="1739" y="2271.5" width="209" height="25" rx="4"/><text class="ot" x="1746" y="2288.5">五、中国社会保障制度的改革方向</text></g>
<g id="s5-e5-leaf"><rect class="ob" x="1972" y="2246" width="272" height="76" rx="5"/><text class="ot"><tspan x="1980" y="2263.6">结合中共十八大、十八届三中、五中全会，精</tspan><tspan x="1980" y="2280.2">神，我们认为未来中国社会保障制度的改革方</tspan><tspan x="1980" y="2296.8">向为<tspan class="r">全覆盖、保基本，多层次、可持续、更加</tspan></tspan><tspan x="1980" y="2313.4" class="r">公平、城乡统筹、社会化、法治化、信息化。</tspan></text></g>

<g id="watermarks">
<text class="wm" transform="translate(374,706) rotate(-32)">树图 shutu.cn</text>
<text class="wm" transform="translate(1648,714) rotate(-32)">树图 shutu.cn</text>
<text class="wm" transform="translate(374,1702) rotate(-32)">树图 shutu.cn</text>
<text class="wm" transform="translate(1648,1710) rotate(-32)">树图 shutu.cn</text>
<text class="wm" transform="translate(374,2698) rotate(-32)">树图 shutu.cn</text>
<text class="wm" transform="translate(1648,2706) rotate(-32)">树图 shutu.cn</text>
</g>
</svg>
